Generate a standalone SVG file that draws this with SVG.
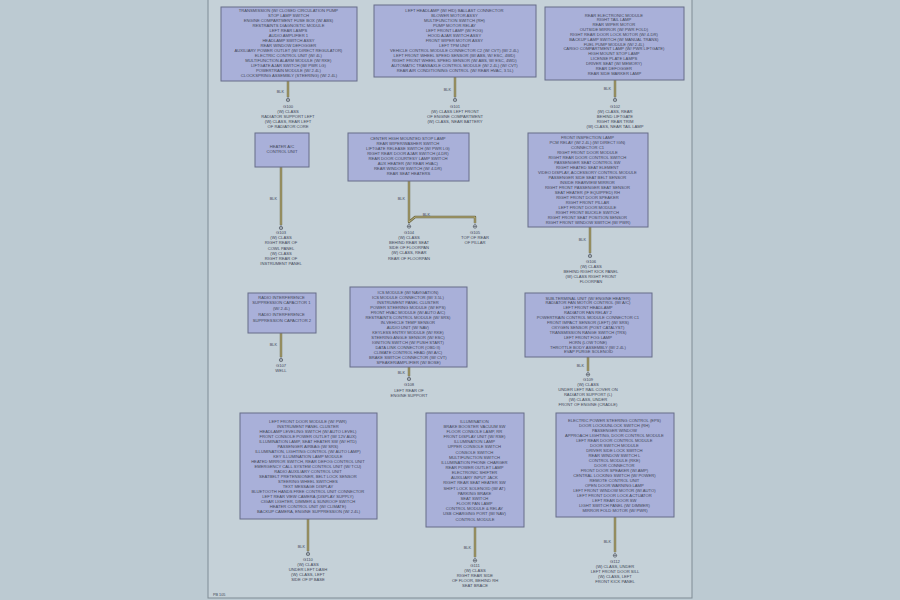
<svg xmlns="http://www.w3.org/2000/svg" xmlns:xlink="http://www.w3.org/1999/xlink" width="900" height="600" viewBox="0 0 900 600">
<style>
.bg{fill:#bccad2}
.page{fill:#c5d1d8;stroke:#7f8b95;stroke-width:1}
.box{fill:#a9b0d9;stroke:#676d88;stroke-width:1}
.t{font-family:"Liberation Sans",Arial,sans-serif;font-size:4.15px;fill:#414656;text-anchor:middle}
.wl{font-family:"Liberation Sans",Arial,sans-serif;font-size:3.8px;fill:#414656;text-anchor:end}
.wire{fill:none;stroke:#6e6a46;stroke-width:2.4;stroke-linejoin:round}
.core{fill:none;stroke:#c3b880;stroke-width:0.9;stroke-linejoin:round}
.gs{fill:none;stroke:#454a55;stroke-width:0.6}
</style>
<defs>
<g id="gnd"><circle r="1.7" class="gs"/><path class="gs" d="M-1.7 0H1.7M0 -3.2V-1.7"/></g>
<path id="wA" d="M288 81V97"/>
<path id="wB" d="M455 77V97"/>
<path id="wC" d="M615 80V97"/>
<path id="wD" d="M281 167V225"/>
<path id="wE" d="M409 181V222L415 217H475V223"/>
<path id="wF" d="M590 227V253"/>
<path id="wG" d="M281 333V357"/>
<path id="wH" d="M409 367V376"/>
<path id="wI" d="M588 357V371"/>
<path id="wJ" d="M308 519V551"/>
<path id="wK" d="M475 527V557"/>
<path id="wL" d="M615 517V552"/>
</defs>
<rect class="bg" x="0" y="0" width="900" height="600"/>
<rect class="page" x="208" y="-2" width="484" height="600"/>

<g id="connectors">
<use xlink:href="#wA" class="wire"/><use xlink:href="#wA" class="core"/>
<use xlink:href="#wB" class="wire"/><use xlink:href="#wB" class="core"/>
<use xlink:href="#wC" class="wire"/><use xlink:href="#wC" class="core"/>
<use xlink:href="#wD" class="wire"/><use xlink:href="#wD" class="core"/>
<use xlink:href="#wE" class="wire"/><use xlink:href="#wE" class="core"/>
<use xlink:href="#wF" class="wire"/><use xlink:href="#wF" class="core"/>
<use xlink:href="#wG" class="wire"/><use xlink:href="#wG" class="core"/>
<use xlink:href="#wH" class="wire"/><use xlink:href="#wH" class="core"/>
<use xlink:href="#wI" class="wire"/><use xlink:href="#wI" class="core"/>
<use xlink:href="#wJ" class="wire"/><use xlink:href="#wJ" class="core"/>
<use xlink:href="#wK" class="wire"/><use xlink:href="#wK" class="core"/>
<use xlink:href="#wL" class="wire"/><use xlink:href="#wL" class="core"/>
<text class="wl" x="284" y="93">BLK</text>
<text class="wl" x="451" y="91">BLK</text>
<text class="wl" x="611" y="90">BLK</text>
<text class="wl" x="277" y="200">BLK</text>
<text class="wl" x="405" y="200">BLK</text>
<text class="wl" x="430" y="215.6">BLK</text>
<text class="wl" x="586" y="241">BLK</text>
<text class="wl" x="277" y="346">BLK</text>
<text class="wl" x="405" y="374">BLK</text>
<text class="wl" x="584" y="367">BLK</text>
<text class="wl" x="305" y="548">BLK</text>
<text class="wl" x="471" y="549">BLK</text>
<text class="wl" x="611" y="543">BLK</text>
</g>

<g id="nodeA">
<rect class="box" x="221" y="7" width="136" height="74"/>
<text class="t">
<tspan x="289" y="11.5">TRANSMISSION (W/ CLOSED CIRCULATION PUMP</tspan>
<tspan x="289" y="16.5">STOP LAMP SWITCH</tspan>
<tspan x="289" y="21.5">ENGINE COMPARTMENT FUSE BOX (W/ ABS)</tspan>
<tspan x="289" y="26.5">RESTRAINTS DIAGNOSTIC MODULE</tspan>
<tspan x="289" y="31.5">LEFT REAR LAMPS</tspan>
<tspan x="289" y="36.5">AUDIO AMPLIFIER 1</tspan>
<tspan x="289" y="41.5">HEADLAMP SWITCH ASSY</tspan>
<tspan x="289" y="46.5">REAR WINDOW DEFOGGER</tspan>
<tspan x="289" y="51.5">AUXILIARY POWER OUTLET (W/ DIRECT REGULATOR)</tspan>
<tspan x="289" y="56.5">ELECTRIC CONTROL UNIT (W/ 4L)</tspan>
<tspan x="289" y="61.5">MULTIFUNCTION ALARM MODULE (W/ RKE)</tspan>
<tspan x="289" y="66.5">LIFTGATE AJAR SWITCH (W/ PWR LG)</tspan>
<tspan x="289" y="71.5">POWERTRAIN MODULE (W/ 2.4L)</tspan>
<tspan x="289" y="76.5">CLOCKSPRING ASSEMBLY (STEERING) (W/ 2.4L)</tspan>
</text>
</g>
<g id="groundA">
<use xlink:href="#gnd" x="288" y="100"/>
<text class="t"><tspan x="288" y="107.5">G100</tspan><tspan x="288" y="112.5">(W) CLASS</tspan><tspan x="288" y="117.5">RADIATOR SUPPORT LEFT</tspan><tspan x="288" y="122.5">(W) CLASS, REAR LEFT</tspan><tspan x="288" y="127.5">OF RADIATOR CORE</tspan></text>
</g>

<g id="nodeB">
<rect class="box" x="374" y="5" width="162" height="72"/>
<text class="t">
<tspan x="455" y="11.5">LEFT HEADLAMP (W/ HID) BALLAST CONNECTOR</tspan>
<tspan x="455" y="16.5">BLOWER MOTOR ASSY</tspan>
<tspan x="455" y="21.5">MULTIFUNCTION SWITCH (RH)</tspan>
<tspan x="455" y="26.5">PUMP MOTOR RELAY</tspan>
<tspan x="455" y="31.5">LEFT FRONT LAMP (W/ FOG)</tspan>
<tspan x="455" y="36.5">HOOD AJAR SWITCH ASSY</tspan>
<tspan x="455" y="41.5">FRONT WIPER MOTOR ASSY</tspan>
<tspan x="455" y="46.5">LEFT TPM UNIT</tspan>
<tspan x="455" y="51.5">VEHICLE CONTROL MODULE CONNECTOR C2 (W/ CVT) (W/ 2.4L)</tspan>
<tspan x="455" y="56.5">LEFT FRONT WHEEL SPEED SENSOR (W/ ABS, W/ ESC, 4WD)</tspan>
<tspan x="455" y="61.5">RIGHT FRONT WHEEL SPEED SENSOR (W/ ABS, W/ ESC, 4WD)</tspan>
<tspan x="455" y="66.5">AUTOMATIC TRANSAXLE CONTROL MODULE (W/ 2.4L) (W/ CVT)</tspan>
<tspan x="455" y="71.5">REAR AIR CONDITIONING CONTROL (W/ REAR HVAC, 3.5L)</tspan>
</text>
</g>
<g id="groundB">
<use xlink:href="#gnd" x="455" y="100"/>
<text class="t"><tspan x="455" y="108">G101</tspan><tspan x="455" y="113">(W) CLASS LEFT FRONT</tspan><tspan x="455" y="118">OF ENGINE COMPARTMENT</tspan><tspan x="455" y="123">(W) CLASS, NEAR BATTERY</tspan></text>
</g>

<g id="nodeC">
<rect class="box" x="545" y="7" width="139" height="73"/>
<text class="t">
<tspan x="614.5" y="16.5">REAR ELECTRONIC MODULE</tspan>
<tspan x="614.5" y="21.3">RIGHT TAIL LAMP</tspan>
<tspan x="614.5" y="26.2">REAR WIPER MOTOR</tspan>
<tspan x="614.5" y="31">OUTSIDE MIRROR (W/ PWR FOLD)</tspan>
<tspan x="614.5" y="35.8">RIGHT REAR DOOR LOCK MOTOR (W/ 4-DR)</tspan>
<tspan x="614.5" y="40.7">BACKUP LAMP SWITCH (W/ MANUAL TRANS)</tspan>
<tspan x="614.5" y="45.5">FUEL PUMP MODULE (W/ 2.4L)</tspan>
<tspan x="614.5" y="50.3">CARGO COMPARTMENT LAMP (W/ PWR LIFTGATE)</tspan>
<tspan x="614.5" y="55.1">HIGH MOUNT STOP LAMP</tspan>
<tspan x="614.5" y="60">LICENSE PLATE LAMPS</tspan>
<tspan x="614.5" y="64.8">DRIVER SEAT (W/ MEMORY)</tspan>
<tspan x="614.5" y="69.6">REAR DEFOGGER</tspan>
<tspan x="614.5" y="74.5">REAR SIDE MARKER LAMP</tspan>
</text>
</g>
<g id="groundC">
<use xlink:href="#gnd" x="615" y="100"/>
<text class="t"><tspan x="615" y="107.5">G102</tspan><tspan x="615" y="112.5">(W) CLASS, REAR</tspan><tspan x="615" y="117.5">BEHIND LIFTGATE</tspan><tspan x="615" y="122.5">RIGHT REAR TRIM</tspan><tspan x="615" y="127.5">(W) CLASS, NEAR TAIL LAMP</tspan></text>
</g>

<g id="nodeD">
<rect class="box" x="255" y="133" width="54" height="34"/>
<text class="t"><tspan x="282" y="147.5">HEATER A/C</tspan><tspan x="282" y="153">CONTROL UNIT</tspan></text>
</g>
<g id="groundD">
<use xlink:href="#gnd" x="281" y="228"/>
<text class="t"><tspan x="281" y="234">G103</tspan><tspan x="281" y="239.2">(W) CLASS</tspan><tspan x="281" y="244.4">RIGHT REAR OF</tspan><tspan x="281" y="249.6">COWL PANEL</tspan><tspan x="281" y="254.8">(W) CLASS</tspan><tspan x="281" y="260">RIGHT REAR OF</tspan><tspan x="281" y="265.2">INSTRUMENT PANEL</tspan></text>
</g>

<g id="nodeE">
<rect class="box" x="348" y="133" width="121" height="48"/>
<text class="t">
<tspan x="408.5" y="139.5">CENTER HIGH MOUNTED STOP LAMP</tspan>
<tspan x="408.5" y="144.5">REAR WIPER/WASHER SWITCH</tspan>
<tspan x="408.5" y="149.5">LIFTGATE RELEASE SWITCH (W/ PWR LG)</tspan>
<tspan x="408.5" y="154.5">RIGHT REAR DOOR AJAR SWITCH (4-DR)</tspan>
<tspan x="408.5" y="159.5">REAR DOOR COURTESY LAMP SWITCH</tspan>
<tspan x="408.5" y="164.5">AUX HEATER (W/ REAR HVAC)</tspan>
<tspan x="408.5" y="169.5">REAR WINDOW SWITCH (W/ 4-DR)</tspan>
<tspan x="408.5" y="174.5">REAR SEAT HEATERS</tspan>
</text>
</g>
<g id="groundE1">
<use xlink:href="#gnd" x="409" y="226.5"/>
<text class="t"><tspan x="409" y="233.5">G104</tspan><tspan x="409" y="238.7">(W) CLASS</tspan><tspan x="409" y="243.9">BEHIND REAR SEAT</tspan><tspan x="409" y="249.1">SIDE OF FLOORPAN</tspan><tspan x="409" y="254.3">(W) CLASS, REAR</tspan><tspan x="409" y="259.5">REAR OF FLOORPAN</tspan></text>
</g>
<g id="groundE2">
<use xlink:href="#gnd" x="475" y="226.5"/>
<text class="t"><tspan x="475" y="233.5">G105</tspan><tspan x="475" y="238.7">TOP OF REAR</tspan><tspan x="475" y="243.9">OF PILLAR</tspan></text>
</g>

<g id="nodeF">
<rect class="box" x="528" y="133" width="120" height="94"/>
<text class="t">
<tspan x="588" y="138.5">FRONT INSPECTION LAMP</tspan>
<tspan x="588" y="143.5">PCM RELAY (W/ 2.4L) (W/ DIRECT IGN)</tspan>
<tspan x="588" y="148.5">CONNECTOR C1</tspan>
<tspan x="588" y="153.5">RIGHT FRONT DOOR MODULE</tspan>
<tspan x="588" y="158.5">RIGHT REAR DOOR CONTROL SWITCH</tspan>
<tspan x="588" y="163.5">PASSENGER SEAT CONTROL SW</tspan>
<tspan x="588" y="168.5">RIGHT HEATED SEAT ELEMENT</tspan>
<tspan x="588" y="173.5">VIDEO DISPLAY, ACCESSORY CONTROL MODULE</tspan>
<tspan x="588" y="178.5">PASSENGER SIDE SEAT BELT SENSOR</tspan>
<tspan x="588" y="183.5">INSIDE REARVIEW MIRROR</tspan>
<tspan x="588" y="188.5">RIGHT FRONT PASSENGER SEAT SENSOR</tspan>
<tspan x="588" y="193.5">SEAT HEATER (IF EQUIPPED) RH</tspan>
<tspan x="588" y="198.5">RIGHT FRONT DOOR SPEAKER</tspan>
<tspan x="588" y="203.5">RIGHT FRONT PILLAR</tspan>
<tspan x="588" y="208.5">LEFT FRONT DOOR MODULE</tspan>
<tspan x="588" y="213.5">RIGHT FRONT BUCKLE SWITCH</tspan>
<tspan x="588" y="218.5">RIGHT FRONT SEAT POSITION SENSOR</tspan>
<tspan x="588" y="223.5">RIGHT FRONT WINDOW SWITCH (W/ PWR)</tspan>
</text>
</g>
<g id="groundF">
<use xlink:href="#gnd" x="590" y="256"/>
<text class="t"><tspan x="591" y="262.5">G106</tspan><tspan x="591" y="267.5">(W) CLASS</tspan><tspan x="591" y="272.5">BEHIND RIGHT KICK PANEL</tspan><tspan x="591" y="277.5">(W) CLASS RIGHT FRONT</tspan><tspan x="591" y="282.5">FLOORPAN</tspan></text>
</g>

<g id="nodeG">
<rect class="box" x="248" y="293" width="68" height="40"/>
<text class="t">
<tspan x="282" y="298.5">RADIO INTERFERENCE</tspan>
<tspan x="282" y="304.2">SUPPRESSION CAPACITOR 1</tspan>
<tspan x="282" y="310">(W/ 2.4L)</tspan>
<tspan x="282" y="315.7">RADIO INTERFERENCE</tspan>
<tspan x="282" y="321.5">SUPPRESSION CAPACITOR 2</tspan>
</text>
</g>
<g id="groundG">
<use xlink:href="#gnd" x="281" y="360"/>
<text class="t"><tspan x="281" y="367">G107</tspan><tspan x="281" y="372.2">WELL</tspan></text>
</g>

<g id="nodeH">
<rect class="box" x="350" y="287" width="117" height="80"/>
<text class="t">
<tspan x="408.5" y="293.5">ICS MODULE (W/ NAVIGATION)</tspan>
<tspan x="408.5" y="298.5">ICS MODULE CONNECTOR (W/ 3.5L)</tspan>
<tspan x="408.5" y="303.5">INSTRUMENT PANEL CLUSTER</tspan>
<tspan x="408.5" y="308.5">POWER STEERING MODULE (W/ EPS)</tspan>
<tspan x="408.5" y="313.5">FRONT HVAC MODULE (W/ AUTO A/C)</tspan>
<tspan x="408.5" y="318.5">RESTRAINTS CONTROL MODULE (W/ SRS)</tspan>
<tspan x="408.5" y="323.5">IN-VEHICLE TEMP SENSOR</tspan>
<tspan x="408.5" y="328.5">AUDIO UNIT (W/ NAV)</tspan>
<tspan x="408.5" y="333.5">KEYLESS ENTRY MODULE (W/ RKE)</tspan>
<tspan x="408.5" y="338.5">STEERING ANGLE SENSOR (W/ ESC)</tspan>
<tspan x="408.5" y="343.5">IGNITION SWITCH (W/ PUSH START)</tspan>
<tspan x="408.5" y="348.5">DATA LINK CONNECTOR (OBD II)</tspan>
<tspan x="408.5" y="353.5">CLIMATE CONTROL HEAD (W/ A/C)</tspan>
<tspan x="408.5" y="358.5">BRAKE SWITCH CONNECTOR (W/ CVT)</tspan>
<tspan x="408.5" y="363.5">SPEAKER/AMPLIFIER (W/ BOSE)</tspan>
</text>
</g>
<g id="groundH">
<use xlink:href="#gnd" x="409" y="379"/>
<text class="t"><tspan x="409" y="386">G108</tspan><tspan x="409" y="391.5">LEFT REAR OF</tspan><tspan x="409" y="397">ENGINE SUPPORT</tspan></text>
</g>

<g id="nodeI">
<rect class="box" x="525" y="293" width="127" height="64"/>
<text class="t">
<tspan x="588.5" y="299.5">SUB-TERMINAL UNIT (W/ ENGINE HEATER)</tspan>
<tspan x="588.5" y="304.4">RADIATOR FAN MOTOR CONTROL (W/ A/C)</tspan>
<tspan x="588.5" y="309.3">LEFT FRONT HEADLAMP</tspan>
<tspan x="588.5" y="314.2">RADIATOR FAN RELAY 2</tspan>
<tspan x="588.5" y="319.1">POWERTRAIN CONTROL MODULE CONNECTOR C1</tspan>
<tspan x="588.5" y="324">FRONT IMPACT SENSOR (LEFT) (W/ SRS)</tspan>
<tspan x="588.5" y="328.9">OXYGEN SENSOR (POST CATALYST)</tspan>
<tspan x="588.5" y="333.8">TRANSMISSION RANGE SWITCH (TRS)</tspan>
<tspan x="588.5" y="338.7">LEFT FRONT FOG LAMP</tspan>
<tspan x="588.5" y="343.6">HORN (LOW TONE)</tspan>
<tspan x="588.5" y="348.5">THROTTLE BODY ASSEMBLY (W/ 2.4L)</tspan>
<tspan x="588.5" y="353.4">EVAP PURGE SOLENOID</tspan>
</text>
</g>
<g id="groundI">
<use xlink:href="#gnd" x="588" y="374.5"/>
<text class="t"><tspan x="588" y="381">G109</tspan><tspan x="588" y="386">(W) CLASS</tspan><tspan x="588" y="391">UNDER LEFT RAIL COVER ON</tspan><tspan x="588" y="396">RADIATOR SUPPORT (L)</tspan><tspan x="588" y="401">(W) CLASS, UNDER</tspan><tspan x="588" y="406">FRONT OF ENGINE (CRADLE)</tspan></text>
</g>

<g id="nodeJ">
<rect class="box" x="240" y="413" width="137" height="106"/>
<text class="t">
<tspan x="308.5" y="422.5">LEFT FRONT DOOR MODULE (W/ PWR)</tspan>
<tspan x="308.5" y="427.5">INSTRUMENT PANEL CLUSTER</tspan>
<tspan x="308.5" y="432.5">HEADLAMP LEVELING SWITCH (W/ AUTO LEVEL)</tspan>
<tspan x="308.5" y="437.5">FRONT CONSOLE POWER OUTLET (W/ 12V AUX)</tspan>
<tspan x="308.5" y="442.5">ILLUMINATION LAMP, SEAT HEATER SW (W/ HTD)</tspan>
<tspan x="308.5" y="447.5">PASSENGER AIRBAG (W/ SRS)</tspan>
<tspan x="308.5" y="452.5">ILLUMINATION, LIGHTING CONTROL (W/ AUTO LAMP)</tspan>
<tspan x="308.5" y="457.5">KEY ILLUMINATION LAMP MODULE</tspan>
<tspan x="308.5" y="462.5">HEATED MIRROR SWITCH, REAR DEFOG CONTROL UNIT</tspan>
<tspan x="308.5" y="467.5">EMERGENCY CALL SYSTEM CONTROL UNIT (W/ TCU)</tspan>
<tspan x="308.5" y="472.5">RADIO AUXILIARY CONTROL UNIT</tspan>
<tspan x="308.5" y="477.5">SEATBELT PRETENSIONER, BELT LOCK SENSOR</tspan>
<tspan x="308.5" y="482.5">STEERING WHEEL SWITCHES</tspan>
<tspan x="308.5" y="487.5">TEXT MESSAGE DISPLAY</tspan>
<tspan x="308.5" y="492.5">BLUETOOTH HANDS FREE CONTROL UNIT CONNECTOR</tspan>
<tspan x="308.5" y="497.5">LEFT REAR VIEW CAMERA (DISPLAY SUPPLY)</tspan>
<tspan x="308.5" y="502.5">CIGAR LIGHTER, DIMMER &amp; SUNROOF SWITCH</tspan>
<tspan x="308.5" y="507.5">HEATER CONTROL UNIT (W/ CLIMATE)</tspan>
<tspan x="308.5" y="512.5">BACKUP CAMERA, ENGINE SUPPRESSION (W/ 2.4L)</tspan>
</text>
</g>
<g id="groundJ">
<use xlink:href="#gnd" x="308" y="554"/>
<text class="t"><tspan x="308" y="561">G110</tspan><tspan x="308" y="566">(W) CLASS</tspan><tspan x="308" y="571">UNDER LEFT DASH</tspan><tspan x="308" y="576">(W) CLASS, LEFT</tspan><tspan x="308" y="581">SIDE OF IP BASE</tspan></text>
</g>

<g id="nodeK">
<rect class="box" x="426" y="413" width="98" height="114"/>
<text class="t">
<tspan x="475" y="422.5">ILLUMINATION</tspan>
<tspan x="475" y="427.7">BRAKE BOOSTER VACUUM SW</tspan>
<tspan x="475" y="432.8">FLOOR CONSOLE LAMP, RR</tspan>
<tspan x="475" y="438">FRONT DISPLAY UNIT (W/ RSE)</tspan>
<tspan x="475" y="443.1">ILLUMINATION LAMP</tspan>
<tspan x="475" y="448.3">UPPER CONSOLE SWITCH</tspan>
<tspan x="475" y="453.5">CONSOLE SWITCH</tspan>
<tspan x="475" y="458.6">MULTIFUNCTION SWITCH</tspan>
<tspan x="475" y="463.8">ILLUMINATION PHONE CHARGER</tspan>
<tspan x="475" y="468.9">REAR POWER OUTLET LAMP</tspan>
<tspan x="475" y="474.1">ELECTRONIC SHIFTER</tspan>
<tspan x="475" y="479.3">AUXILIARY INPUT JACK</tspan>
<tspan x="475" y="484.4">RIGHT REAR SEAT HEATER SW</tspan>
<tspan x="475" y="489.6">SHIFT LOCK SOLENOID (W/ AT)</tspan>
<tspan x="475" y="494.7">PARKING BRAKE</tspan>
<tspan x="475" y="499.9">SEAT SWITCH</tspan>
<tspan x="475" y="505.1">FLOOR PAN LAMP</tspan>
<tspan x="475" y="510.2">CONTROL MODULE &amp; RELAY</tspan>
<tspan x="475" y="515.4">USB CHARGING PORT (W/ NAV)</tspan>
<tspan x="475" y="520.5">CONTROL MODULE</tspan>
</text>
</g>
<g id="groundK">
<use xlink:href="#gnd" x="475" y="560.5"/>
<text class="t"><tspan x="475" y="567">G111</tspan><tspan x="475" y="572">(W) CLASS</tspan><tspan x="475" y="577">RIGHT REAR SIDE</tspan><tspan x="475" y="582">OF FLOOR, BEHIND RH</tspan><tspan x="475" y="587">SEAT BRACE</tspan></text>
</g>

<g id="nodeL">
<rect class="box" x="556" y="413" width="118" height="104"/>
<text class="t">
<tspan x="615" y="421.5">ELECTRIC POWER STEERING CONTROL (EPS)</tspan>
<tspan x="615" y="426.5">DOOR LOCK/UNLOCK SWITCH (RH)</tspan>
<tspan x="615" y="431.5">PASSENGER WINDOW</tspan>
<tspan x="615" y="436.5">APPROACH LIGHTING, DOOR CONTROL MODULE</tspan>
<tspan x="615" y="441.5">LEFT REAR DOOR CONTROL MODULE</tspan>
<tspan x="615" y="446.5">DOOR SWITCH MODULE</tspan>
<tspan x="615" y="451.5">DRIVER SIDE LOCK SWITCH</tspan>
<tspan x="615" y="456.5">REAR WINDOW SWITCH L</tspan>
<tspan x="615" y="461.5">CONTROL MODULE (RKE)</tspan>
<tspan x="615" y="466.5">DOOR CONNECTOR</tspan>
<tspan x="615" y="471.5">FRONT DOOR SPEAKER (W/ AMP)</tspan>
<tspan x="615" y="476.5">CENTRAL LOCKING SWITCH (W/ POWER)</tspan>
<tspan x="615" y="481.5">REMOTE CONTROL UNIT</tspan>
<tspan x="615" y="486.5">OPEN DOOR WARNING LAMP</tspan>
<tspan x="615" y="491.5">LEFT FRONT WINDOW MOTOR (W/ AUTO)</tspan>
<tspan x="615" y="496.5">LEFT FRONT DOOR LOCK ACTUATOR</tspan>
<tspan x="615" y="501.5">LEFT REAR DOOR SW</tspan>
<tspan x="615" y="506.5">LIGHT SWITCH PANEL (W/ DIMMER)</tspan>
<tspan x="615" y="511.5">MIRROR FOLD MOTOR (W/ PWR)</tspan>
</text>
</g>
<g id="groundL">
<use xlink:href="#gnd" x="615" y="555.5"/>
<text class="t"><tspan x="615" y="563">G112</tspan><tspan x="615" y="568">(W) CLASS, UNDER</tspan><tspan x="615" y="573">LEFT FRONT DOOR SILL</tspan><tspan x="615" y="578">(W) CLASS, LEFT</tspan><tspan x="615" y="583">FRONT KICK PANEL</tspan></text>
</g>

<text class="wl" x="213" y="595.5" style="text-anchor:start">PB 105</text>
</svg>
